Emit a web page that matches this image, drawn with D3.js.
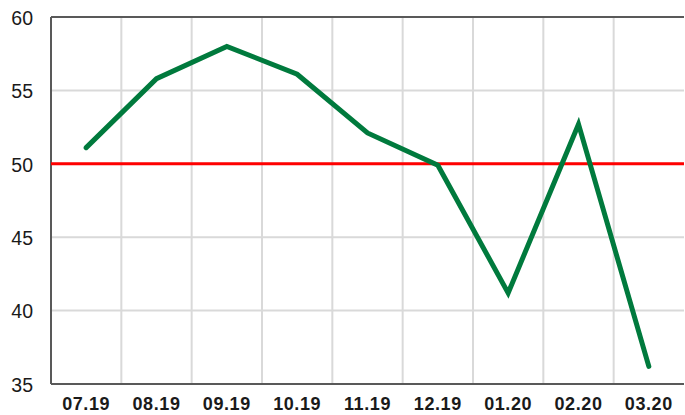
<!DOCTYPE html>
<html>
<head>
<meta charset="utf-8">
<script src="https://cdn.jsdelivr.net/npm/d3@7"></script>
<style>
  body { margin: 0; background: #fff; }
  text { font-family: "Liberation Sans", Arial, sans-serif; fill: #1a1a1a; }
</style>
</head>
<body>
<div id="chart"></div>
<script>
// chart values
const months = ["07.19", "08.19", "09.19", "10.19", "11.19", "12.19", "01.20", "02.20", "03.20"];
const values = [51.1, 55.8, 58.0, 56.1, 52.1, 49.9, 41.2, 52.7, 36.2];
const yTicks = [35, 40, 45, 50, 55, 60];
const threshold = 50;

const svgWidth = 685;
const svgHeight = 415;
const margin = { top: 17, right: 1, bottom: 31, left: 51 };
const width = svgWidth - margin.left - margin.right;
const height = svgHeight - margin.top - margin.bottom;

const svg = d3.select("#chart")
    .append("svg")
    .attr("width", svgWidth)
    .attr("height", svgHeight);

const g = svg.append("g")
    .attr("transform", `translate(${margin.left}, ${margin.top})`);

const x = d3.scaleBand().domain(months).range([0, width]);
const y = d3.scaleLinear().domain([35, 60]).range([height, 0]);

// grid lines
g.append("g")
    .selectAll("line")
    .data(yTicks.filter(d => d !== 35 && d !== 60))
    .join("line")
    .attr("x1", 0).attr("x2", width)
    .attr("y1", d => y(d)).attr("y2", d => y(d))
    .attr("stroke", "#d9d9d9").attr("stroke-width", 2);

g.append("g")
    .selectAll("line")
    .data(months.slice(1))
    .join("line")
    .attr("x1", d => x(d)).attr("x2", d => x(d))
    .attr("y1", 0).attr("y2", height)
    .attr("stroke", "#d9d9d9").attr("stroke-width", 2);

// axes frame
g.append("line").attr("x1", 0).attr("x2", width).attr("y1", 0).attr("y2", 0)
    .attr("stroke", "#595959").attr("stroke-width", 2);
g.append("line").attr("x1", 0).attr("x2", width).attr("y1", height).attr("y2", height)
    .attr("stroke", "#595959").attr("stroke-width", 2);
g.append("line").attr("x1", 0).attr("x2", 0).attr("y1", 0).attr("y2", height)
    .attr("stroke", "#595959").attr("stroke-width", 2);

// y tick labels
g.append("g")
    .selectAll("text")
    .data(yTicks)
    .join("text")
    .attr("x", -18)
    .attr("y", d => y(d) + 1)
    .attr("dy", "0.35em")
    .attr("text-anchor", "end")
    .attr("font-size", "19.5px")
    .text(d => d);

// x tick labels
g.append("g")
    .selectAll("text")
    .data(months)
    .join("text")
    .attr("x", d => x(d) + x.bandwidth() / 2)
    .attr("y", height + 26)
    .attr("text-anchor", "middle")
    .attr("font-size", "18px")
    .attr("letter-spacing", "0.6px")
    .attr("font-weight", "bold")
    .text(d => d);

// threshold line
g.append("line")
    .attr("x1", 0).attr("x2", width)
    .attr("y1", y(threshold)).attr("y2", y(threshold))
    .attr("stroke", "#ff0000").attr("stroke-width", 3);

// data line
const line = d3.line()
    .x((d, i) => x(months[i]) + x.bandwidth() / 2)
    .y(d => y(d));

g.append("path")
    .datum(values)
    .attr("d", line)
    .attr("fill", "none")
    .attr("stroke", "#007a3d")
    .attr("stroke-width", 5)
    .attr("stroke-linecap", "round")
    .attr("stroke-linejoin", "miter");
</script>
</body>
</html>
